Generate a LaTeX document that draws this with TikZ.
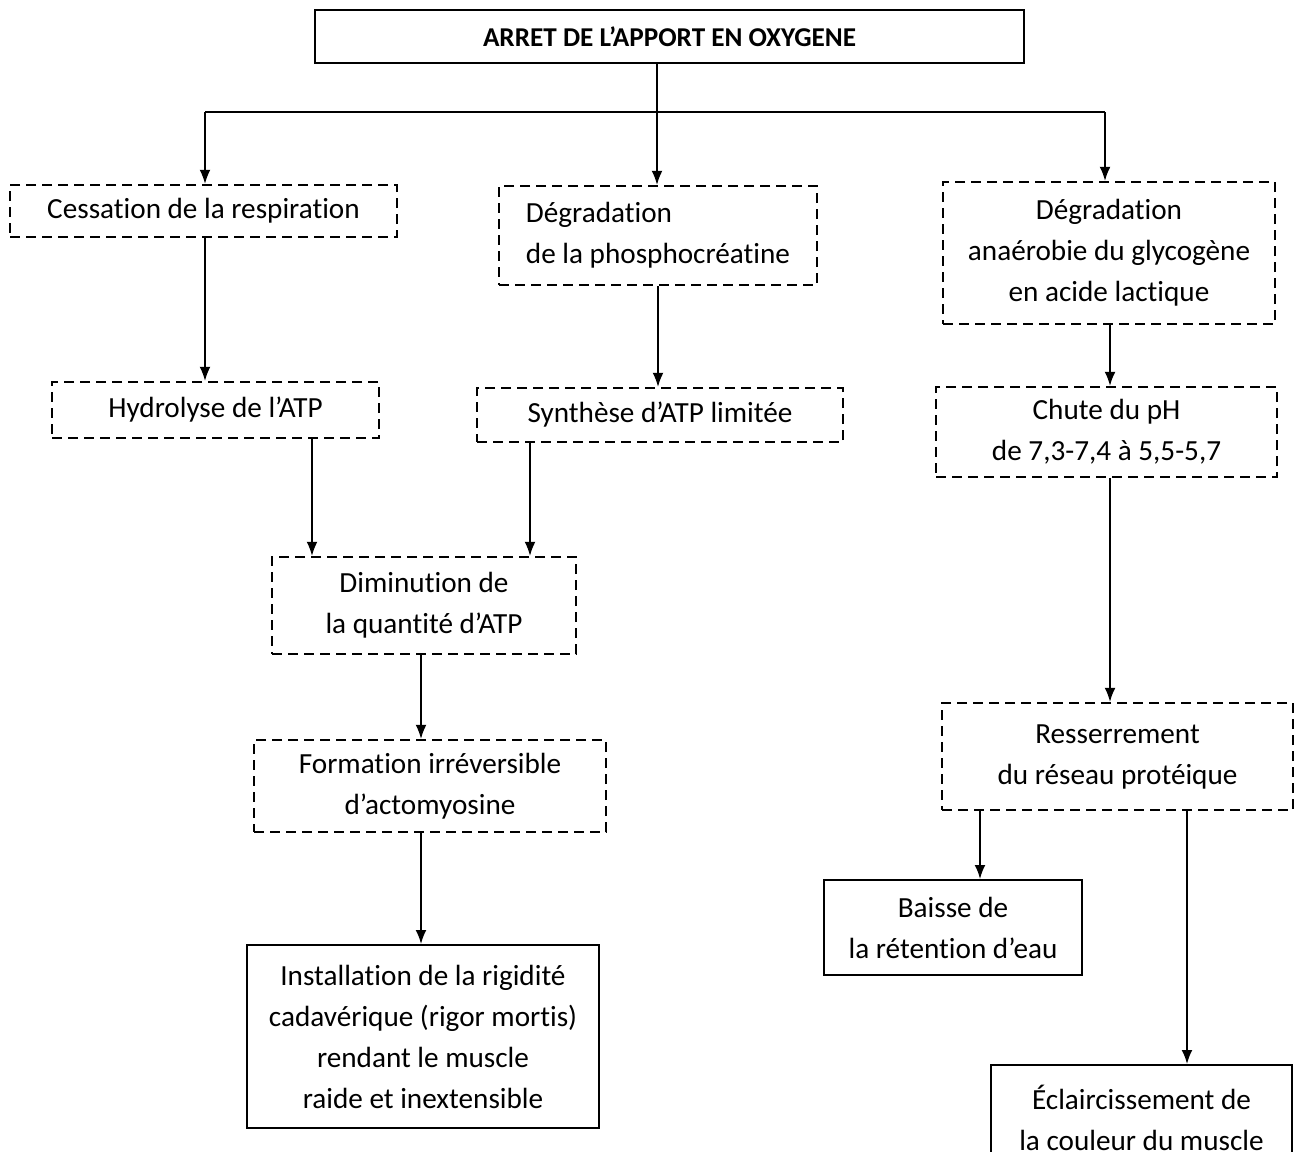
\documentclass[tikz,border=0pt]{standalone}
\usepackage{fontspec}
\setmainfont{Carlito}[Ligatures=NoCommon]
\usetikzlibrary{arrows.meta}
\begin{document}
\begin{tikzpicture}[x=0.5pt,y=-0.5pt,>={Latex[length=7pt,width=5.4pt]},
  every node/.style={font=\fontsize{14.6}{20.5}\selectfont},
  dbox/.style={draw,dash pattern=on 5pt off 3pt,line width=1.1pt,align=center,inner sep=0pt},
  sbox/.style={draw,line width=1pt,align=center,inner sep=0pt},
  fleche/.style={->,line width=0.8pt}]
\useasboundingbox (0,0) rectangle (1294,1151);
\node[sbox,minimum width=354.5pt,minimum height=26.5pt,font=\fontsize{13.6}{16}\selectfont\bfseries] (T) at (669.5,36.5){ARRET DE L’APPORT EN OXYGENE};

\node[dbox,minimum width=193.5pt,minimum height=26pt] (A) at (203.5,211){Cessation de la respiration};
\node[dbox,align=left,minimum width=159pt,minimum height=49.5pt] (B) at (658,235.5){Dégradation\\de la phosphocréatine};
\node[dbox,minimum width=166pt,minimum height=71pt] (C) at (1109,253){Dégradation\\anaérobie du glycogène\\en acide lactique};
\coordinate (bus) at (657,112);
\draw[line width=0.8pt] (205,0 |- bus)--(1105,0 |- bus);
\draw[fleche] (657,0 |- T.south)--(657,0 |- B.north);
\draw[fleche] (205,0 |- bus)--(205,0 |- A.north);
\draw[fleche] (1105,0 |- bus)--(1105,0 |- C.north);

\node[dbox,minimum width=163.5pt,minimum height=28pt] (D) at (215.5,410){Hydrolyse de l’ATP};
\node[dbox,minimum width=183pt,minimum height=27pt] (E) at (660,415){Synthèse d’ATP limitée};
\node[dbox,minimum width=170.5pt,minimum height=45pt] (F) at (1106.5,432){Chute du pH\\de 7,3-7,4 à 5,5-5,7};
\draw[fleche] (205,0 |- A.south)--(205,0 |- D.north);
\draw[fleche] (658,0 |- B.south)--(658,0 |- E.north);
\draw[fleche] (1110,0 |- C.south)--(1110,0 |- F.north);

\node[dbox,minimum width=152pt,minimum height=48.5pt] (G) at (424,605.5){Diminution de\\la quantité d’ATP};
\draw[fleche] (312,0 |- D.south)--(312,0 |- G.north);
\draw[fleche] (530,0 |- E.south)--(530,0 |- G.north);
\node[dbox,minimum width=176pt,minimum height=46pt] (H) at (430,786){Formation irréversible\\d’actomyosine};
\draw[fleche] (421,0 |- G.south)--(421,0 |- H.north);
\node[sbox,minimum width=176pt,minimum height=91.5pt] (I) at (423,1036.5){Installation de la rigidité\\cadavérique (rigor mortis)\\rendant le muscle\\raide et inextensible};
\draw[fleche] (421,0 |- H.south)--(421,0 |- I.north);

\node[dbox,minimum width=175.5pt,minimum height=53.5pt] (J) at (1117.5,756.5){Resserrement\\du réseau protéique};
\draw[fleche] (1110,0 |- F.south)--(1110,0 |- J.north);
\node[sbox,minimum width=129pt,minimum height=47.5pt] (K) at (953,927.5){Baisse de\\la rétention d’eau};
\node[sbox,minimum width=150.5pt,minimum height=52.5pt] (L) at (1141.5,1117.5){Éclaircissement de\\la couleur du muscle};
\draw[fleche] (980,0 |- J.south)--(980,0 |- K.north);
\draw[fleche] (1187,0 |- J.south)--(1187,0 |- L.north);
\end{tikzpicture}
\end{document}
